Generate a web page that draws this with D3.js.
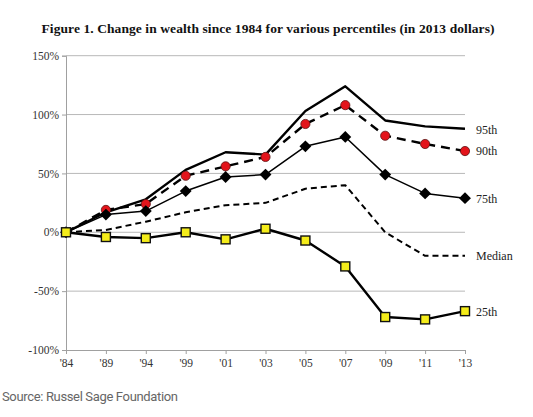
<!DOCTYPE html>
<html>
<head>
<meta charset="utf-8">
<script src="https://cdn.jsdelivr.net/npm/d3@7"></script>
<style>
  body { margin: 0; background: #fff; }
  svg { display: block; }
</style>
</head>
<body>
<svg id="chart" width="533" height="417"></svg>
<script>
// values (percent change since 1984)
let years = ["'84", "'89", "'94", "'99", "'01", "'03", "'05", "'07", "'09", "'11", "'13"];
let p95 = [0, 17, 28, 53, 68, 66, 103, 124, 95, 90, 88];
let p90 = [0, 19, 24, 48, 56, 64, 92, 108, 82, 75, 69];
let p75 = [0, 15, 18, 35, 47, 49, 73, 81, 49, 33, 29];
let median = [0, 2, 9, 17, 23, 25, 37, 40, 0, -20, -20];
let p25 = [0, -4, -5, 0, -6, 3, -7, -29, -72, -74, -67];
let yTicks = [-100, -50, 0, 50, 100, 150];

let svg = d3.select('#chart');
let pLeft = 66, pRight = 465, pTop = 55.7, pBottom = 350;

let x = d3.scalePoint().domain(years).range([pLeft, pRight]);
let y = d3.scaleLinear().domain([-100, 150]).range([pBottom, pTop]);

svg.append('text')
  .attr('x', 268).attr('y', 33)
  .attr('text-anchor', 'middle')
  .attr('textLength', 453)
  .style('font-family', 'Liberation Serif, serif')
  .style('font-weight', 'bold')
  .style('font-size', '13.5px')
  .attr('fill', '#111')
  .text('Figure 1. Change in wealth since 1984 for various percentiles (in 2013 dollars)');

// gridlines
svg.append('g').selectAll('line')
  .data(yTicks.filter(d => d > -100))
  .join('line')
  .attr('x1', pLeft).attr('x2', pRight)
  .attr('y1', d => y(d)).attr('y2', d => y(d))
  .attr('stroke', '#b8b8b8').attr('stroke-width', 1);

// axes
let yAxis = svg.append('g').attr('transform', `translate(${pLeft},0)`)
  .call(d3.axisLeft(y).tickValues(yTicks).tickSize(4).tickFormat(d => d + '%'));
let xAxis = svg.append('g').attr('transform', `translate(0,${pBottom})`)
  .call(d3.axisBottom(x).tickSize(4).tickPadding(5));
[yAxis, xAxis].forEach(ax => {
  ax.select('.domain').attr('stroke', '#a0a0a0');
  ax.selectAll('line').attr('stroke', '#a0a0a0');
  ax.selectAll('text')
    .style('font-family', 'Liberation Serif, serif')
    .style('font-size', '11.5px')
    .attr('fill', '#333');
});
yAxis.selectAll('text').attr('x', -7);

let line = d3.line().x((d, i) => x(years[i])).y(d => y(d));

let series = [
  {name: '95th', vals: p95, width: 2.4, dash: null},
  {name: '90th', vals: p90, width: 2.4, dash: '9,6'},
  {name: '75th', vals: p75, width: 1.5, dash: null},
  {name: 'Median', vals: median, width: 2, dash: '6,4'},
  {name: '25th', vals: p25, width: 2.4, dash: null}
];

series.forEach(s => {
  svg.append('path')
    .datum(s.vals)
    .attr('d', line)
    .attr('fill', 'none')
    .attr('stroke', '#000')
    .attr('stroke-width', s.width)
    .attr('stroke-dasharray', s.dash)
    .attr('stroke-linejoin', 'round');
});

// markers
svg.append('g').selectAll('circle')
  .data(p90.slice(1))
  .join('circle')
  .attr('cx', (d, i) => x(years[i + 1]))
  .attr('cy', d => y(d))
  .attr('r', 4.6)
  .attr('fill', '#e3141b')
  .attr('stroke', '#5a1010').attr('stroke-width', 0.8);

svg.append('g').selectAll('path')
  .data(p75)
  .join('path')
  .attr('d', d3.symbol(d3.symbolDiamond2, 90))
  .attr('transform', (d, i) => `translate(${x(years[i])},${y(d)})`)
  .attr('fill', '#000');

svg.append('g').selectAll('rect')
  .data(p25)
  .join('rect')
  .attr('x', (d, i) => x(years[i]) - 4.5)
  .attr('y', d => y(d) - 4.5)
  .attr('width', 9).attr('height', 9)
  .attr('fill', '#f4ec1a')
  .attr('stroke', '#111').attr('stroke-width', 1.4);

// end labels
let labelY = {'95th': 130, '90th': 151, '75th': 199, 'Median': 256, '25th': 312};
svg.append('g').selectAll('text')
  .data(series)
  .join('text')
  .attr('x', 476)
  .attr('y', d => labelY[d.name])
  .attr('dy', '0.35em')
  .style('font-family', 'Liberation Serif, serif')
  .style('font-size', '12px')
  .attr('fill', '#222')
  .text(d => d.name);

svg.append('text')
  .attr('x', 2).attr('y', 401)
  .attr('textLength', 176)
  .style('font-family', 'Roboto, sans-serif')
  .style('font-size', '13px')
  .attr('fill', '#666')
  .text('Source: Russel Sage Foundation');
</script>
</body>
</html>
